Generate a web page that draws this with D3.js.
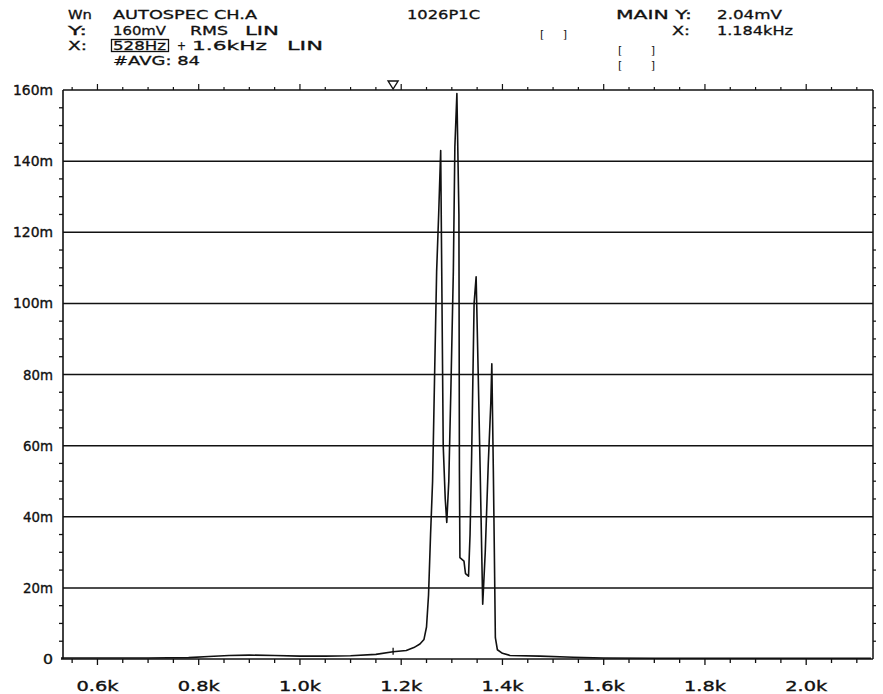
<!DOCTYPE html>
<html><head><meta charset="utf-8">
<script src="https://cdn.jsdelivr.net/npm/d3@7"></script>
<style>
html,body{margin:0;padding:0;background:#fff;}
svg{display:block;}
text{font-family:"DejaVu Sans","Liberation Sans",sans-serif;fill:#111;}
</style></head>
<body>
<svg id="c" width="883" height="694"></svg>
<script>
// ---- data ----
const freqHz = [528,600,700,780,820,860,900,950,1000,1050,1100,1150,1184,1210,1225,1237,1245,1250,1254,1258,1262,1266,1270,1274,1278,1280,1283,1287,1290,1294,1298,1303,1306,1310,1314,1315,1316,1324,1327,1333,1336,1339,1344,1348,1352,1356,1361,1366,1372,1377,1379,1382,1384,1386,1390,1400,1415,1474,1540,1600,1700,1900,2128];
const amplitudeMV = [0.3,0.3,0.3,0.4,0.7,1.0,1.1,1.0,0.8,0.8,0.9,1.3,2.04,2.4,3.2,4.2,5.5,9,18,35,50,80,109,125,143,110,60,45,38.4,50,75,109,144,159,125,53,28.5,27.5,24,23.3,35,56,100,107.5,81,53,15.4,30,55,72,83,53,30,6,2.6,1.6,1.0,0.8,0.5,0.3,0.2,0.2,0.2];
const yTicks = [0,20,40,60,80,100,120,140,160];
const yTickLabels = ["0","20m","40m","60m","80m","100m","120m","140m","160m"];
const xTicks = [600,800,1000,1200,1400,1600,1800,2000];
const xTickLabels = ["0.6k","0.8k","1.0k","1.2k","1.4k","1.6k","1.8k","2.0k"];
const markerHz = 1184;
const markerMV = 2.04;

// ---- scales ----
const svg = d3.select("#c");
const x = d3.scaleLinear().domain([528, 2128]).range([61, 871]);
const y = d3.scaleLinear().domain([0, 160]).range([659, 90]);
const L = 63, R = 873, T = 90, B = 659;
const ink = "#111";

// grid lines
svg.append("g").selectAll("line").data(yTicks.filter(v=>v>0&&v<160)).join("line")
  .attr("x1", L).attr("x2", R).attr("y1", d=>y(d)).attr("y2", d=>y(d))
  .attr("stroke", ink).attr("stroke-width", 1.5);

// frame
svg.append("line").attr("x1",L).attr("x2",R).attr("y1",T).attr("y2",T).attr("stroke",ink).attr("stroke-width",1.5);
svg.append("line").attr("x1",61).attr("x2",R).attr("y1",B).attr("y2",B).attr("stroke",ink).attr("stroke-width",1.6);
svg.append("line").attr("x1",L).attr("x2",L).attr("y1",T).attr("y2",B).attr("stroke",ink).attr("stroke-width",1.6);
svg.append("line").attr("x1",R).attr("x2",R).attr("y1",T).attr("y2",B).attr("stroke",ink).attr("stroke-width",1.5);

// minor y ticks (every 5m), left outward and right outward
const yMinor = d3.range(5,160,5).filter(v=>v%20!==0);
svg.append("g").selectAll("line").data(yMinor).join("line")
  .attr("x1",L-4).attr("x2",L).attr("y1",d=>y(d)).attr("y2",d=>y(d)).attr("stroke",ink).attr("stroke-width",1.3);
svg.append("g").selectAll("line").data(yMinor).join("line")
  .attr("x1",R).attr("x2",R+3).attr("y1",d=>y(d)).attr("y2",d=>y(d)).attr("stroke",ink).attr("stroke-width",1.2);

// x ticks bottom (down) and top (up), every 50 Hz, major every 200 Hz
const xAll = d3.range(550, 2128, 50);
svg.append("g").selectAll("line").data(xAll).join("line")
  .attr("x1",d=>x(d)).attr("x2",d=>x(d)).attr("y1",B).attr("y2",d=> d%200===0 ? B+6 : B+4)
  .attr("stroke",ink).attr("stroke-width",1.3);
svg.append("g").selectAll("line").data(xAll).join("line")
  .attr("x1",d=>x(d)).attr("x2",d=>x(d)).attr("y1",T).attr("y2",d=> d%200===0 ? T-6 : T-3)
  .attr("stroke",ink).attr("stroke-width",1.2);

// tick labels
svg.append("g").selectAll("text").data(yTicks).join("text")
  .attr("x",53).attr("y",d=>y(d)+5).attr("text-anchor","end")
  .attr("font-size",13.5).attr("stroke",ink).attr("stroke-width",0.35)
  .attr("textLength",(d,i)=>yTickLabels[i].length*10).attr("lengthAdjust","spacingAndGlyphs")
  .text((d,i)=>yTickLabels[i]);
svg.append("g").selectAll("text").data(xTicks).join("text")
  .attr("x",d=>x(d)-21).attr("y",691)
  .attr("font-size",13.5).attr("stroke",ink).attr("stroke-width",0.35)
  .attr("textLength",42).attr("lengthAdjust","spacingAndGlyphs")
  .text((d,i)=>xTickLabels[i]);

// trace
const line = d3.line().x((d,i)=>x(freqHz[i])).y(d=>y(d));
svg.append("path").datum(amplitudeMV).attr("d",line)
  .attr("fill","none").attr("stroke",ink).attr("stroke-width",1.6).attr("stroke-linejoin","round");

// marker
const mx = x(markerHz), my = y(markerMV);
svg.append("line").attr("x1",mx).attr("x2",mx).attr("y1",my-4).attr("y2",my+3).attr("stroke",ink).attr("stroke-width",1.3);
svg.append("path").attr("d",`M${mx-5},${T-9} L${mx+5},${T-9} L${mx},${T-1} Z`)
  .attr("fill","none").attr("stroke",ink).attr("stroke-width",1.4);

// header
const hdr = [
  ["Wn",68,19,24],["AUTOSPEC CH.A",113,19,144],["1026P1C",407,19,73],
  ["MAIN Y:",616,19,76],["2.04mV",717,19,65],
  ["Y:",68,34.5,19],["160mV",113,34.5,53],["RMS",190,34.5,38],["LIN",245,34.5,34],
  ["X:",672,34.5,18],["1.184kHz",717,34.5,76],
  ["X:",68,50,19],["528Hz",113,50,53],["+",177,50,9],["1.6kHz",192,50,75],["LIN",287,50,36],
  ["#AVG: 84",113,65,87]
];
svg.append("g").selectAll("text").data(hdr).join("text")
  .attr("x",d=>d[1]).attr("y",d=>d[2]).attr("font-size",12.5)
  .attr("stroke",ink).attr("stroke-width",0.3)
  .attr("textLength",d=>d[3]).attr("lengthAdjust","spacingAndGlyphs")
  .text(d=>d[0]);
const brackets = [["[ ]",540,38,27],["[  ]",618,54,37],["[  ]",618,69,37]];
svg.append("g").selectAll("text").data(brackets).join("text")
  .attr("x",d=>d[1]).attr("y",d=>d[2]).attr("font-size",11)
  .attr("textLength",d=>d[3]).attr("lengthAdjust","spacing")
  .text(d=>d[0]);
svg.append("rect").attr("x",111.5).attr("y",39.5).attr("width",57).attr("height",12)
  .attr("fill","none").attr("stroke",ink).attr("stroke-width",1.3);
</script>
</body></html>
